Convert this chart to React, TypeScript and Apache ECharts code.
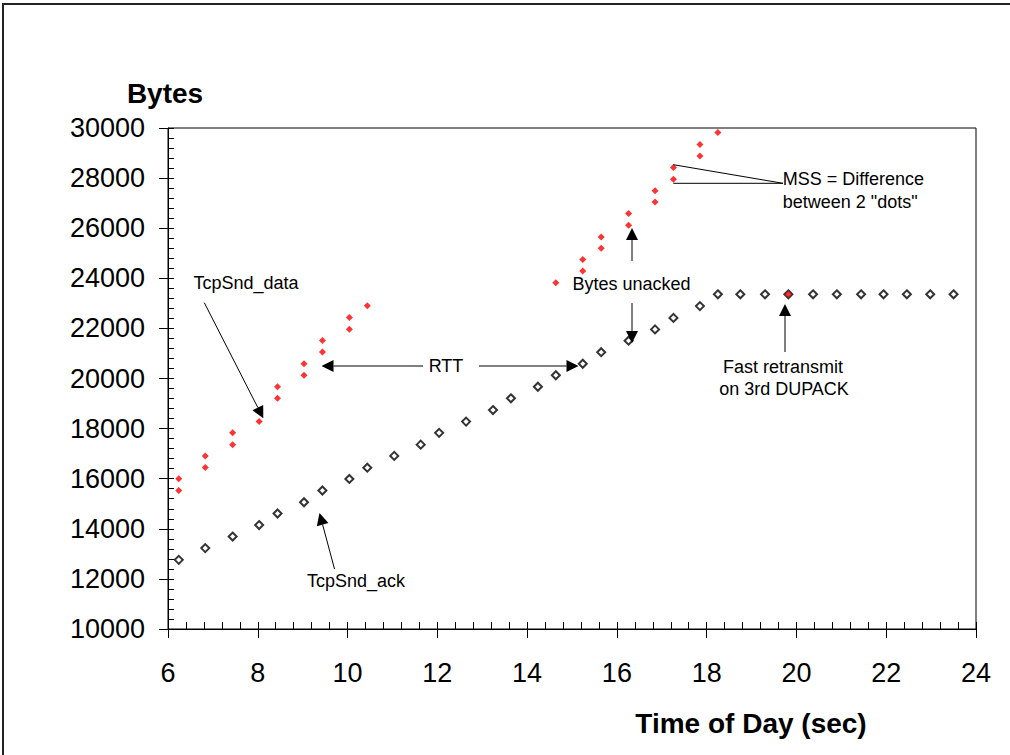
import React, { useEffect, useRef } from "react";
import * as echarts from "echarts";

// Acknowledged bytes (TcpSnd_ack) against time of day
const ackTimes = [
  6.24, 6.83, 7.44, 8.03, 8.44, 9.03, 9.44, 10.04, 10.44, 11.04, 11.63, 12.04,
  12.64, 13.24, 13.64, 14.24, 14.64, 15.24, 15.65, 16.26, 16.85, 17.26, 17.85,
  18.25, 18.75, 19.3, 19.82, 20.37, 20.9, 21.44, 21.94, 22.46, 22.98, 23.5,
];
const ackBytes = [
  12760, 13230, 13690, 14150, 14610, 15060, 15530, 15990, 16440, 16910, 17360,
  17830, 18280, 18740, 19210, 19670, 20130, 20590, 21050, 21510, 21960, 22420,
  22890, 23360, 23360, 23360, 23360, 23360, 23360, 23360, 23360, 23360, 23360,
  23360,
];

// Data segments sent (TcpSnd_data) against time of day
const dataTimes = [
  6.24, 6.24, 6.83, 6.83, 7.44, 7.44, 8.03, 8.03, 8.44, 8.44, 9.03, 9.03, 9.44,
  9.44, 10.04, 10.04, 10.44, 14.64, 15.24, 15.24, 15.65, 15.65, 16.26, 16.26,
  16.85, 16.85, 17.26, 17.26, 17.85, 17.85, 18.25, 19.82,
];
const dataBytes = [
  15530, 16000, 16450, 16910, 17360, 17830, 18280, 18740, 19210, 19670, 20130,
  20590, 21060, 21520, 21970, 22440, 22900, 23820, 24290, 24750, 25200, 25650,
  26120, 26590, 27050, 27500, 27950, 28420, 28880, 29340, 29820, 23360,
];

const xMin = 6;
const xMax = 24;
const xStep = 2;
const yMin = 10000;
const yMax = 30000;
const yStep = 2000;

const FONT = '"Liberation Sans", Arial, sans-serif';

function arrow(x1: number, y1: number, x2: number, y2: number): any[] {
  const dx = x2 - x1;
  const dy = y2 - y1;
  const len = Math.hypot(dx, dy);
  const ux = dx / len;
  const uy = dy / len;
  const hl = 12;
  const hw = 6;
  const bx = x2 - ux * hl;
  const by = y2 - uy * hl;
  return [
    {
      type: "line",
      z: 100,
      shape: { x1, y1, x2: bx, y2: by },
      style: { stroke: "#000", lineWidth: 1 },
    },
    {
      type: "polygon",
      z: 100,
      shape: {
        points: [
          [x2, y2],
          [bx - uy * hw, by + ux * hw],
          [bx + uy * hw, by - ux * hw],
        ],
      },
      style: { fill: "#000" },
    },
  ];
}

function label(
  text: string,
  x: number,
  y: number,
  align: "center" | "left" = "center"
): any {
  return {
    type: "text",
    z: 100,
    x,
    y,
    style: {
      text,
      fill: "#000",
      fontSize: 18,
      fontFamily: FONT,
      align,
      verticalAlign: "middle",
    },
  };
}

function line(x1: number, y1: number, x2: number, y2: number): any {
  return {
    type: "line",
    z: 100,
    shape: { x1, y1, x2, y2 },
    style: { stroke: "#000", lineWidth: 1 },
  };
}

export default function App() {
  const ref = useRef<HTMLDivElement>(null);

  useEffect(() => {
    document.body.style.margin = "0";
    if (!ref.current) return;
    const chart = echarts.init(ref.current, undefined, { renderer: "svg" });

    const valueAxisBase = {
      type: "value" as const,
      splitLine: { show: false },
    };

    const option: any = {
      animation: false,
      backgroundColor: "#fff",
      grid: {
        left: 168,
        right: 34,
        top: 128,
        bottom: 126,
        show: true,
        borderColor: "#000",
        borderWidth: 1,
        containLabel: false,
        outerBoundsMode: "none",
      },
      xAxis: [
        {
          ...valueAxisBase,
          min: xMin,
          max: xMax,
          interval: xStep,
          position: "bottom",
          name: "Time of Day (sec)",
          nameLocation: "middle",
          nameGap: 80,
          nameTextStyle: {
            fontFamily: FONT,
            fontSize: 28,
            fontWeight: "bold",
            color: "#000",
            verticalAlign: "top",
            padding: [0, 0, 0, 358],
          },
          axisLine: { lineStyle: { color: "#000", width: 1 } },
          axisTick: { inside: true, length: 7, lineStyle: { color: "#000" } },
          minorTick: {
            show: true,
            splitNumber: 5,
            length: 7,
            lineStyle: { color: "#000" },
          },
          axisLabel: {
            fontFamily: FONT,
            fontSize: 27,
            color: "#000",
            margin: 30,
          },
        },
        {
          ...valueAxisBase,
          min: xMin,
          max: xMax,
          interval: xStep,
          position: "bottom",
          axisLine: { show: false },
          axisTick: { inside: false, length: 9, lineStyle: { color: "#000" } },
          axisLabel: { show: false },
        },
      ],
      yAxis: [
        {
          ...valueAxisBase,
          min: yMin,
          max: yMax,
          interval: yStep,
          position: "left",
          name: "Bytes",
          nameLocation: "end",
          nameGap: 21,
          nameTextStyle: {
            fontFamily: FONT,
            fontSize: 28,
            fontWeight: "bold",
            color: "#000",
            padding: [0, 6, 0, 0],
          },
          axisLine: { lineStyle: { color: "#000", width: 1 } },
          axisTick: { inside: true, length: 6, lineStyle: { color: "#000" } },
          minorTick: {
            show: true,
            splitNumber: 5,
            length: 6,
            lineStyle: { color: "#000" },
          },
          axisLabel: {
            fontFamily: FONT,
            fontSize: 27,
            color: "#000",
            margin: 23,
            formatter: (v: number) => String(v),
          },
        },
        {
          ...valueAxisBase,
          min: yMin,
          max: yMax,
          interval: yStep,
          position: "left",
          axisLine: { show: false },
          axisTick: { inside: false, length: 9, lineStyle: { color: "#000" } },
          axisLabel: { show: false },
        },
      ],
      series: [
        {
          name: "TcpSnd_ack",
          type: "scatter",
          xAxisIndex: 0,
          yAxisIndex: 0,
          symbol: "diamond",
          symbolSize: 8,
          itemStyle: { color: "#fff", borderColor: "#000", borderWidth: 2 },
          data: ackTimes.map((t, i) => [t, ackBytes[i]]),
          z: 2,
        },
        {
          name: "TcpSnd_data",
          type: "scatter",
          xAxisIndex: 0,
          yAxisIndex: 0,
          symbol: "diamond",
          symbolSize: 7,
          itemStyle: { color: "#ff0000" },
          data: dataTimes.map((t, i) => [t, dataBytes[i]]),
          z: 3,
        },
      ],
      graphic: [
        // outer frame
        {
          type: "polyline",
          z: 100,
          shape: {
            points: [
              [3, 755],
              [3, 4],
              [1010, 4],
            ],
          },
          style: { stroke: "#222", lineWidth: 2, fill: null },
        },
        label("TcpSnd_data", 246, 283),
        ...arrow(204.3, 302.7, 263.3, 418.3),
        label("RTT", 446, 366),
        ...arrow(423, 366, 321.5, 366),
        ...arrow(479, 366, 578.5, 366),
        label("TcpSnd_ack", 356, 581),
        ...arrow(334.5, 569, 319.5, 513),
        label("Bytes unacked", 631.5, 283.5),
        ...arrow(632, 261, 632, 228),
        ...arrow(632, 303, 632, 343),
        line(673.3, 164.7, 783, 183.3),
        line(673.3, 183.3, 783, 183.3),
        label("MSS = Difference", 782.7, 179.3, "left"),
        label('between 2 "dots"', 782.7, 201.7, "left"),
        ...arrow(785, 352, 785, 304),
        label("Fast retransmit", 783, 366.7),
        label("on 3rd DUPACK", 784, 389),
      ],
    };

    chart.setOption(option);
    return () => {
      chart.dispose();
    };
  }, []);

  return <div ref={ref} style={{ width: 1010, height: 755 }} />;
}
